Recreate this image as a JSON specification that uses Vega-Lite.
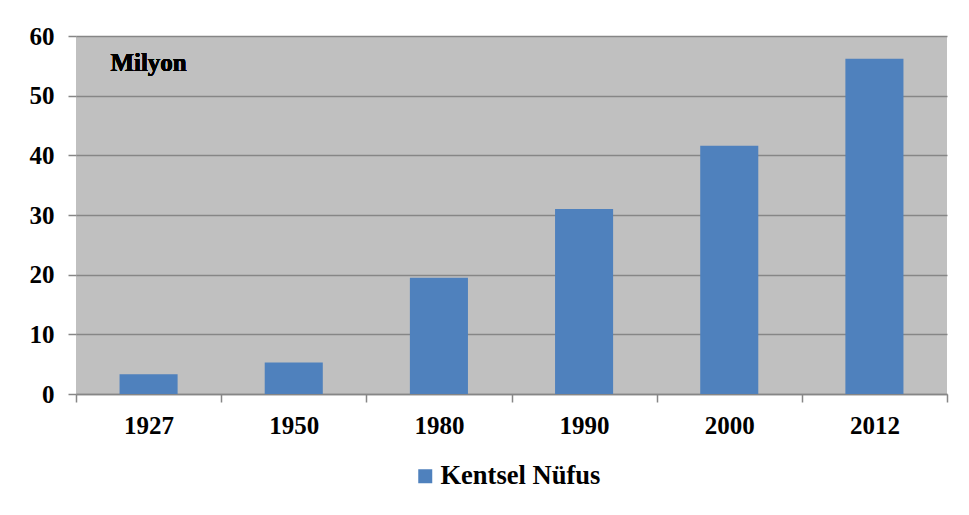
{
  "$schema": "https://vega.github.io/schema/vega-lite/v6.json",
  "width": 871,
  "height": 358,
  "autosize": "none",
  "padding": {"left": 76, "top": 36, "right": 22, "bottom": 121},
  "background": "white",
  "config": {
    "font": "Liberation Serif",
    "view": {"fill": "#c0c0c0", "stroke": null},
    "axis": {"labelFont": "Liberation Serif", "labelFontWeight": "bold", "labelFontSize": 25, "labelColor": "#000000", "domainColor": "#868686", "tickColor": "#868686", "gridColor": "#868686", "gridWidth": 1.5, "domainWidth": 1.5, "tickWidth": 1.5}
  },
  "data": {"values": [
    {"year": "1927", "pop": 3.3},
    {"year": "1950", "pop": 5.3},
    {"year": "1980", "pop": 19.5},
    {"year": "1990", "pop": 31.0},
    {"year": "2000", "pop": 41.6},
    {"year": "2012", "pop": 56.2}
  ]},
  "layer": [
    {
      "mark": {"type": "bar", "color": "#4f81bd", "width": {"band": 0.4}},
      "encoding": {
        "x": {"field": "year", "type": "nominal", "sort": null,
          "scale": {"paddingInner": 0, "paddingOuter": 0},
          "axis": {"title": null, "labelAngle": 0, "tickBand": "extent", "tickSize": 8, "labelPadding": 11, "grid": false}},
        "y": {"field": "pop", "type": "quantitative",
          "scale": {"domain": [0, 60]},
          "axis": {"title": null, "values": [0, 10, 20, 30, 40, 50, 60], "tickSize": 8, "labelPadding": 14, "grid": true, "domain": false}},
        "color": {"datum": "Kentsel Nüfus", "type": "nominal",
          "scale": {"range": ["#4f81bd"]},
          "legend": {"title": null, "orient": "none", "legendX": 336, "legendY": 427, "direction": "horizontal", "symbolType": "square", "symbolSize": 196, "symbolStrokeWidth": 0, "labelFont": "Liberation Serif", "labelFontSize": 26.5, "labelFontWeight": "bold", "labelColor": "#000000", "labelOffset": 2}}
      }
    },
    {
      "mark": {"type": "text", "font": "Liberation Serif", "fontSize": 25, "fontWeight": "bold", "color": "#000000", "align": "center", "baseline": "middle"},
      "encoding": {
        "x": {"datum": "1927", "type": "nominal"},
        "y": {"datum": 55.4, "type": "quantitative"},
        "text": {"value": "Milyon"}
      }
    }
  ]
}
